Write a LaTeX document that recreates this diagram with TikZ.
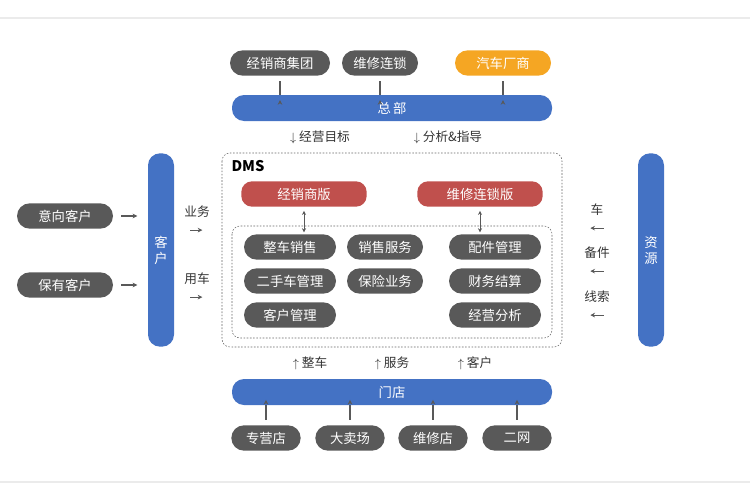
\documentclass[tikz,border=0pt]{standalone}
\usepackage{fontspec}
\setmainfont{Noto Sans CJK SC}
\usetikzlibrary{shapes.misc,arrows.meta}
\definecolor{bblue}{HTML}{4472C4}
\definecolor{dgray}{HTML}{595959}
\definecolor{orng}{HTML}{F5A623}
\definecolor{rred}{HTML}{C0504D}
\tikzset{
 pill/.style={rounded rectangle,fill=dgray,text=white,minimum height=19pt,inner sep=0pt,font=\fontsize{10}{10}\selectfont},
 bar/.style={rectangle,rounded corners=9pt,fill=bblue,text=white,inner sep=0pt,font=\fontsize{10}{12}\selectfont},
 arr/.style={-{Stealth[length=3.5pt,width=3.5pt]},dgray,line width=0.8pt},
 lbl/.style={text=black!80,font=\fontsize{9.5}{10}\selectfont,inner sep=0pt},
 dbox/.style={draw=black!60,dash pattern=on 1.2pt off 1.2pt,rounded corners=6pt}
}
\begin{document}
\begin{tikzpicture}[x=0.75pt,y=-0.75pt]
\useasboundingbox (0,0) rectangle (750,500);
\draw[black!8,line width=1pt] (0,18) -- (750,18) (0,482) -- (750,482);
% top
\node[pill,minimum width=75pt] (jxs) at (280,63) {经销商集团};
\node[pill,minimum width=57pt] (wxl) at (380,63) {维修连锁};
\node[pill,fill=orng,minimum width=72pt] (qc) at (503,63) {汽车厂商};
\node[bar,minimum width=240pt,minimum height=19.5pt] (hq) at (392,108) {总\,部};
\foreach \n in {jxs,wxl,qc}
 \draw[arr] ([yshift=-4pt]\n.south) -- (\n.south |- hq.north) ++(0,-4pt);
\node[lbl] (mb) at (320,137) {$\downarrow$ 经营目标};
\node[lbl] (fx) at (448,137) {$\downarrow$ 分析\&指导};
% DMS
\draw[dbox] (222,153) rectangle (562,347);
\node[font=\bfseries\fontsize{11}{11}\selectfont] (dms) at (248,166) {DMS};
\node[pill,fill=rred,rounded rectangle arc length=120,minimum width=94pt,rounded corners=8pt,rectangle] (v1) at (304,194) {经销商版};
\node[pill,fill=rred,minimum width=94pt,rounded corners=8pt,rectangle] (v2) at (480,194) {维修连锁版};
\draw[dbox] (232,226) rectangle (552,338);
\foreach \n in {v1,v2}
 \draw[{Stealth[length=3pt,width=3pt]}-{Stealth[length=3pt,width=3pt]},dgray,line width=0.7pt] ([yshift=-3pt]\n.south) -- ++(0,-16pt);
\node[pill,minimum width=69pt] (m1) at (290,247) {整车销售};
\node[pill,minimum width=57pt] (m2) at (385,247) {销售服务};
\node[pill,minimum width=69pt] (m3) at (495,247) {配件管理};
\node[pill,minimum width=69pt] (m4) at (290,281) {二手车管理};
\node[pill,minimum width=57pt] (m5) at (385,281) {保险业务};
\node[pill,minimum width=69pt] (m6) at (495,281) {财务结算};
\node[pill,minimum width=69pt] (m7) at (290,315) {客户管理};
\node[pill,minimum width=69pt] (m8) at (495,315) {经营分析};
% left
\node[bar,minimum width=19.5pt,minimum height=145pt,align=center] (kh) at (161,250) {客\\户};
\node[pill,minimum width=72pt] (yx) at (65,216) {意向客户};
\node[pill,minimum width=72pt] (by) at (65,285) {保有客户};
\foreach \n in {yx,by}
 \draw[arr] ([xshift=6pt]\n.east) -- ++(12pt,0);
\node[lbl] (yw) at (197,212) {业务};
\node[lbl] (yc) at (197,279) {用车};
\foreach \n in {yw,yc}
 \draw[arr] ([xshift=-5pt,yshift=-9pt]\n.south) -- ++(9pt,0);
% right
\node[bar,minimum width=19.5pt,minimum height=145pt,align=center] (zy) at (651,250) {资\\源};
\node[lbl] (c) at (597,210) {车};
\node[lbl] (bj) at (597,253) {备件};
\node[lbl] (xs) at (597,297) {线索};
\foreach \n in {c,bj,xs}
 \draw[arr] ([xshift=5pt,yshift=-9pt]\n.south) -- ++(-10pt,0);
% bottom
\node[lbl] (zc) at (310,363) {$\uparrow$ 整车};
\node[lbl] (fw) at (392,363) {$\uparrow$ 服务};
\node[lbl] (kc) at (475,363) {$\uparrow$ 客户};
\node[bar,minimum width=240pt,minimum height=19.5pt] (md) at (392,392) {门店};
\node[pill,minimum width=52pt] (b1) at (266,438) {专营店};
\node[pill,minimum width=52pt] (b2) at (350,438) {大卖场};
\node[pill,minimum width=52pt] (b3) at (433,438) {维修店};
\node[pill,minimum width=52pt] (b4) at (517,438) {二网};
\foreach \n in {b1,b2,b3,b4}
 \draw[arr] ([yshift=4pt]\n.north) -- (\n.north |- md.south) ++(0,4pt);
\end{tikzpicture}
\end{document}
